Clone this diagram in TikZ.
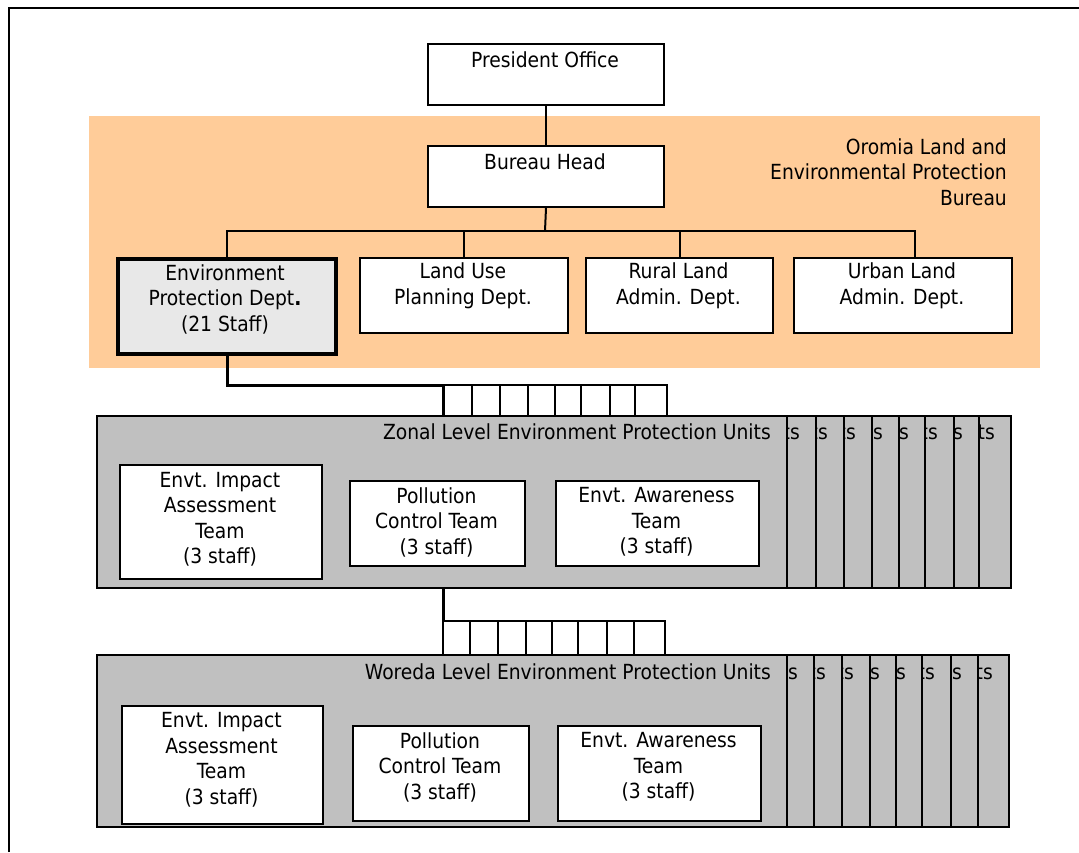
\documentclass[tikz,border=0pt]{standalone}
\usepackage{fontspec}
\setmainfont{DejaVu Sans Condensed}
\definecolor{bureauorange}{RGB}{255,204,153}
\definecolor{unitgrey}{RGB}{192,192,192}
\definecolor{deptgrey}{RGB}{232,232,232}
\begin{document}
\begin{tikzpicture}[x=1pt,y=-1pt,
  box/.style={draw=black, line width=2pt, fill=white, rectangle, inner sep=0pt, anchor=north west},
  unitbox/.style={draw=black, line width=2pt, fill=unitgrey, rectangle, inner sep=0pt, anchor=north east, minimum width=690pt, minimum height=172pt},
  txt/.style={align=center, inner sep=0pt, font=\fontsize{20.8}{25.5}\selectfont},
  conn/.style={line width=2pt},
  thickconn/.style={line width=3pt}]
\useasboundingbox (0,0) rectangle (1079,852);
% outer frame
\draw[line width=2pt] (8.5,852) -- (8.5,7.5) -- (1079,7.5);
% bureau background
\fill[bureauorange] (89,116) rectangle (1040,368);
\node[txt, anchor=east, align=right] (oromia) at (1007,172) {Oromia Land and\\Environmental Protection\\Bureau};
% top boxes
\node[box, minimum width=236pt, minimum height=61pt] (pres) at (427,43) {};
\node[txt] (prest) at (545,60) {President Office};
\node[box, minimum width=236pt, minimum height=61pt] (bureau) at (427,145) {};
\node[txt] (bureaut) at (545,162) {Bureau Head};
% departments
\node[box, line width=4pt, fill=deptgrey, minimum width=218pt, minimum height=95pt] (envd) at (116,257) {};
\node[txt] (envdt) at (225,299) {Environment\\Protection Dept\textbf{.}\\(21 Staff)};
\node[box, minimum width=208pt, minimum height=75pt] (landuse) at (359,257) {};
\node[txt] (landuset) at (463,286) {Land Use\\Planning Dept.};
\node[box, minimum width=187pt, minimum height=75pt] (rural) at (585,257) {};
\node[txt] (ruralt) at (678.5,286) {Rural Land\\Admin. Dept.};
\node[box, minimum width=218pt, minimum height=75pt] (urban) at (793,257) {};
\node[txt] (urbant) at (902,286) {Urban Land\\Admin. Dept.};
% connectors in bureau
\coordinate (bj) at (545,231);
\coordinate (uj) at (915,231);
\draw[conn] (pres.south) -- (bureau.north);
\draw[conn] (bureau.south) -- (bj);
\draw[conn] (envd.north) |- (uj) -- (uj |- urban.north);
\draw[conn] (landuse.north) -- (landuse.north |- bj);
\draw[conn] (rural.north) -- (rural.north |- bj);
% zonal stack (copies behind, back to front)
\foreach \k/\r in {8/1012,7/980,6/955,5/926,4/900,3/873,2/845,1/817}{
  \node[unitbox] (z\k) at (\r,415) {};
  \node[txt, anchor=east] (zt\k) at ({\r-17},432) {ts};
  \coordinate (zc\k) at ({\r-345},385);
  \draw[conn] (envd.south) |- (zc\k) -- (zc\k |- z\k.north);
}
\node[unitbox] (z0) at (788,415) {};
\node[txt, anchor=east] (zt0) at (771,432) {Zonal Level Environment Protection Units};
\coordinate (zc0) at (443,385);
\draw[thickconn] (envd.south) |- (zc0) -- (zc0 |- z0.north);
\node[box, minimum width=202pt, minimum height=114pt] (zeia) at (119,464) {};
\node[txt] (zeiat) at (220,519.5) {Envt. Impact\\Assessment\\Team\\(3 staff)};
\node[box, minimum width=175pt, minimum height=85pt] (zpol) at (349,480) {};
\node[txt] (zpolt) at (436.5,522) {Pollution\\Control Team\\(3 staff)};
\node[box, minimum width=203pt, minimum height=85pt] (zawa) at (555,480) {};
\node[txt] (zawat) at (656.5,522) {Envt. Awareness\\Team\\(3 staff)};
% woreda stack (copies behind, back to front)
\coordinate (wc0) at (443,621);
\foreach \k/\r in {8/1010,7/979,6/952,5/923,4/897,3/871,2/843,1/815}{
  \node[unitbox] (w\k) at (\r,654) {};
  \node[txt, anchor=east] (wt\k) at ({\r-17},672) {ts};
  \coordinate (wc\k) at ({\r-345},621);
  \draw[conn] (z0.south -| wc0) |- (wc\k) -- (wc\k |- w\k.north);
}
\node[unitbox] (w0) at (788,654) {};
\node[txt, anchor=east] (wt0) at (771,672) {Woreda Level Environment Protection Units};
\draw[thickconn] (z0.south -| wc0) -- (wc0);
\draw[conn] (wc0) -- (wc0 |- w0.north);
\node[box, minimum width=201pt, minimum height=118pt] (weia) at (121,705) {};
\node[txt] (weiat) at (221.5,760) {Envt. Impact\\Assessment\\Team\\(3 staff)};
\node[box, minimum width=176pt, minimum height=95pt] (wpol) at (352,725) {};
\node[txt] (wpolt) at (440,767) {Pollution\\Control Team\\(3 staff)};
\node[box, minimum width=203pt, minimum height=95pt] (wawa) at (557,725) {};
\node[txt] (wawat) at (658.5,767) {Envt. Awareness\\Team\\(3 staff)};
\end{tikzpicture}
\end{document}
